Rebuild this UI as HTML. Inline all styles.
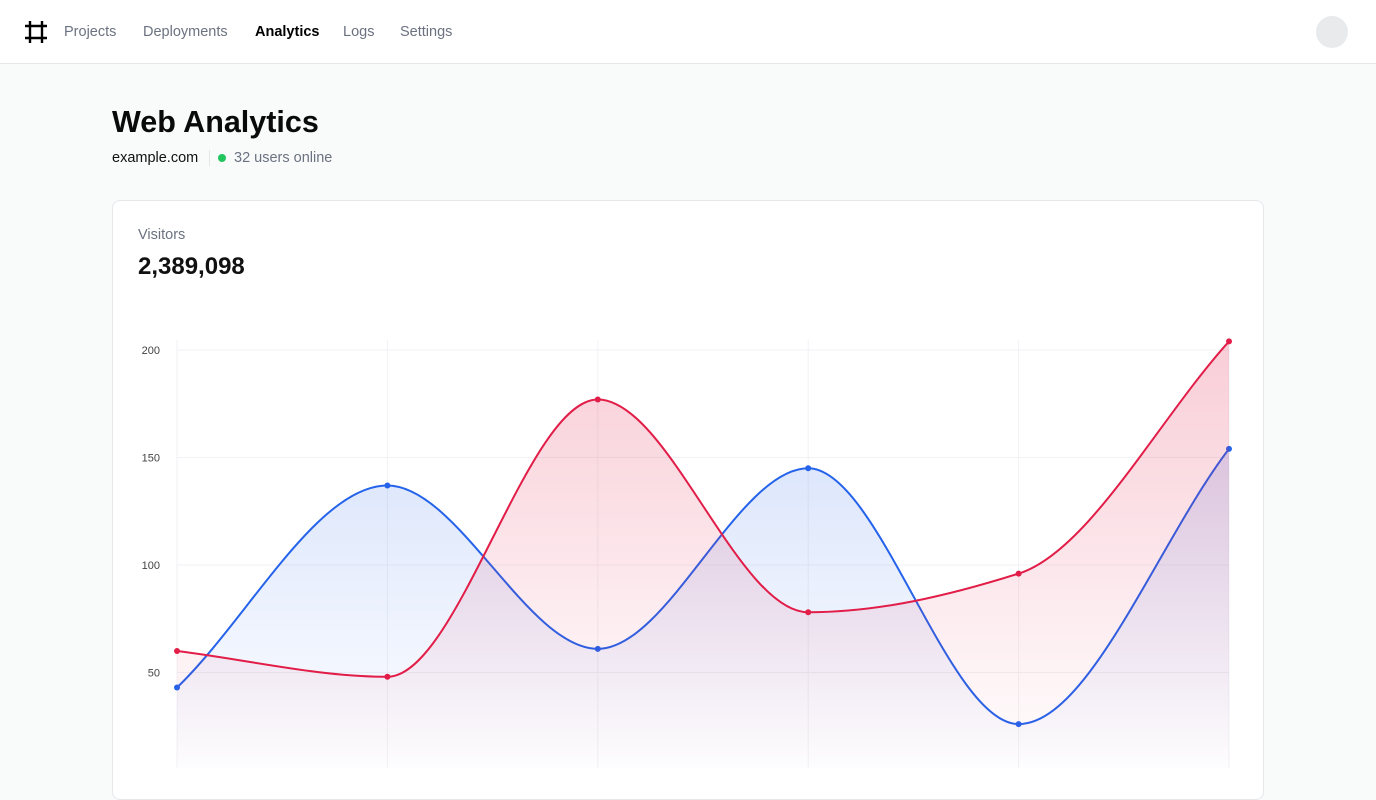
<!DOCTYPE html>
<html><head><meta charset="utf-8"><style>
*{box-sizing:border-box;margin:0;padding:0}
body{width:1376px;height:768px;overflow:hidden;background:#f9fafa;font-family:"Liberation Sans",sans-serif;position:relative}
.nav{position:absolute;left:0;top:0;width:1376px;height:64px;background:#fff;border-bottom:1px solid #e5e7eb}
.nav a{position:absolute;top:24px;font-size:14.5px;color:#6b7280;text-decoration:none}
.avatar{position:absolute;left:1316px;top:16px;width:32px;height:32px;border-radius:50%;background:#e9eaec}
h1{position:absolute;left:112px;top:105px;font-size:30.5px;font-weight:bold;color:#0a0a0a}
.sub{position:absolute;top:150px;font-size:14.5px}
.card{position:absolute;left:112px;top:200px;width:1152px;height:600px;background:#fff;border:1px solid #e5e7eb;border-radius:8px}
</style></head><body>
<div class="nav">
<svg style="position:absolute;left:25px;top:21px" width="22" height="22" viewBox="0 0 22 22"><path d="M5 0v22M17 0v22M0 5h22M0 17h22" stroke="#000" stroke-width="2.4"/></svg>
<a style="left:64px">Projects</a>
<a style="left:143px">Deployments</a>
<a style="left:255px;color:#000;font-weight:bold">Analytics</a>
<a style="left:343px">Logs</a>
<a style="left:400px">Settings</a>
<div class="avatar"></div>
</div>
<h1>Web Analytics</h1>
<div class="sub" style="left:112px;color:#111">example.com</div>
<div style="position:absolute;left:209px;top:150px;width:1px;height:16px;background:#e5e7eb"></div>
<div style="position:absolute;left:218px;top:154px;width:8px;height:8px;border-radius:50%;background:#22c55e"></div>
<div class="sub" style="left:234px;color:#6b7280">32 users online</div>
<div class="card">
<div style="position:absolute;left:25px;top:26px;font-size:14.5px;color:#6b7280">Visitors</div>
<div style="position:absolute;left:25px;top:52px;font-size:24px;font-weight:bold;color:#111">2,389,098</div>
</div>
<svg id="chart" style="position:absolute;left:0;top:0" width="1376" height="768">
<defs>
<linearGradient id="gb" x1="0" y1="340" x2="0" y2="780" gradientUnits="userSpaceOnUse"><stop offset="0" stop-color="#2563eb" stop-opacity="0.22"/><stop offset="1" stop-color="#2563eb" stop-opacity="0"/></linearGradient>
<linearGradient id="gr" x1="0" y1="340" x2="0" y2="780" gradientUnits="userSpaceOnUse"><stop offset="0" stop-color="#e11d48" stop-opacity="0.22"/><stop offset="1" stop-color="#e11d48" stop-opacity="0"/></linearGradient>
</defs>
</svg>
<script>
const categories=["1","2","3","4","5","6"];
const blueValues=[43,137,61,145,26,154];
const redValues=[60,48,177,78,96,204];
const yTicks=[50,100,150,200];
const NS="http://www.w3.org/2000/svg";
const svg=document.getElementById('chart');
const x0=177,x1=1229,yZero=780,yPer=2.15;
const xs=i=>x0+i*(x1-x0)/(categories.length-1);
const ys=v=>yZero-v*yPer;
function mk(t,a){const e=document.createElementNS(NS,t);for(const k in a)e.setAttribute(k,a[k]);svg.appendChild(e);return e;}
yTicks.forEach(t=>{
 const l=mk('line',{x1:177,x2:1229,y1:ys(t),y2:ys(t),stroke:'#f1f2f4'});
 
 
 const tx=mk('text',{x:160,y:ys(t)+4,'text-anchor':'end','font-size':11,fill:'#444','font-family':'Liberation Sans,sans-serif'});
 tx.textContent=t;
 
 
});
categories.forEach((c,i)=>{
 const l=mk('line',{x1:xs(i),x2:xs(i),y1:340,y2:768,stroke:'#f1f2f4'});
 
 
});
function mono(vals){
 const n=vals.length,P=vals.map((v,i)=>[xs(i),ys(v)]);
 const d=[],m=[];
 for(let i=0;i<n-1;i++)d.push((P[i+1][1]-P[i][1])/(P[i+1][0]-P[i][0]));
 for(let i=0;i<n;i++){
  if(i==0)m.push(d[0]);else if(i==n-1)m.push(d[n-2]);
  else m.push(d[i-1]*d[i]<=0?0:2/(1/d[i-1]+1/d[i]));
 }
 let s=`M${P[0][0]},${P[0][1]}`;
 for(let i=0;i<n-1;i++){const h=(P[i+1][0]-P[i][0])/3;
  s+=`C${P[i][0]+h},${P[i][1]+m[i]*h} ${P[i+1][0]-h},${P[i+1][1]-m[i+1]*h} ${P[i+1][0]},${P[i+1][1]}`;}
 return s;
}
function series(vals,col,grad,name){
 const p=mono(vals);
 const a=mk('path',{d:p+`L${xs(vals.length-1)},${yZero}L${xs(0)},${yZero}Z`,fill:`url(#${grad})`});
 
 
 const l=mk('path',{d:p,fill:'none',stroke:col,'stroke-width':2});
 
 
 vals.forEach((v,i)=>{
  const c=mk('circle',{cx:xs(i),cy:ys(v),r:3,fill:col});
  
  
 });
}
series(blueValues,'#2563eb','gb','blue-series');
series(redValues,'#e11d48','gr','red-series');
</script>
</body></html>
